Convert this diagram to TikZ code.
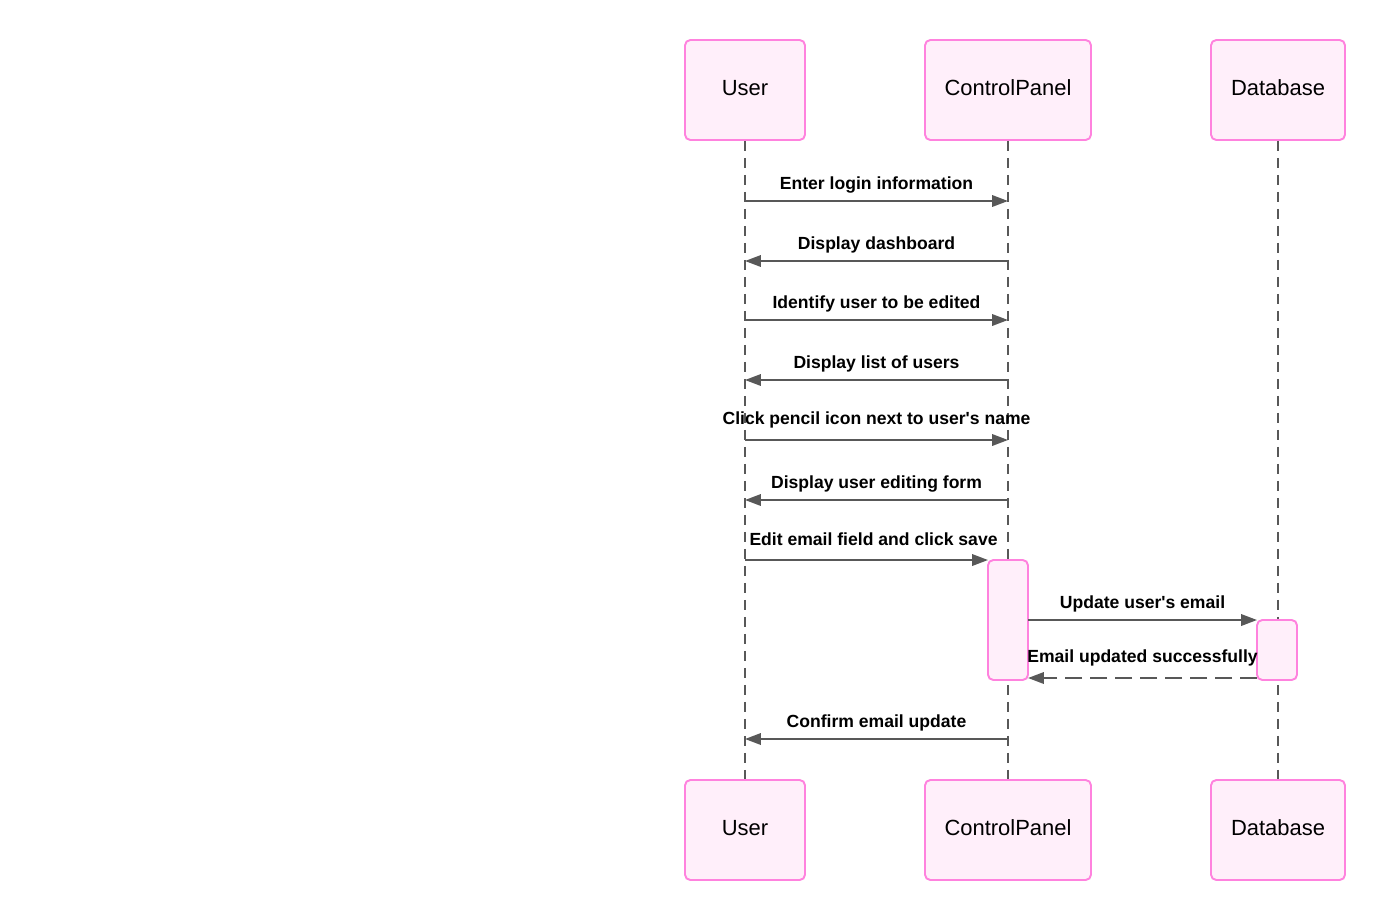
\documentclass[tikz,border=0pt]{standalone}
\usepackage{fontspec}
\setmainfont{Liberation Sans}
\usetikzlibrary{arrows.meta}
\definecolor{actline}{RGB}{255, 130, 222}
\definecolor{actfill}{RGB}{255, 239, 250}
\definecolor{msggray}{RGB}{88, 88, 88}
\begin{document}
\begin{tikzpicture}[x=0.02cm,y=-0.02cm,
    actor/.style={draw=actline,fill=actfill,line width=1.1pt,rounded corners=3pt,
      minimum height=2cm,inner sep=0pt,text height=9pt,text depth=2.3pt,
      font=\fontsize{12.5}{15}\selectfont},
    activ/.style={draw=actline,fill=actfill,line width=1.1pt,rounded corners=3pt,
      minimum width=0.8cm,inner sep=0pt,outer sep=0pt},
    life/.style={msggray,line width=1.1pt,dash pattern=on 0.2cm off 0.14cm},
    msg/.style={msggray,line width=1.1pt,-{Triangle[length=9pt,width=6.5pt]}},
    reply/.style={msg,dash pattern=on 0.34cm off 0.16cm},
    lbl/.style={midway,anchor=base,yshift=6.7pt,inner sep=0pt,text=black,
      font=\bfseries\fontsize{10}{12}\selectfont}]
      \useasboundingbox (0,0) rectangle (1385,920);
      %\draw[help lines,step=50] (0,0) grid (1385,920);
      \node[actor,minimum width=2.4cm] (userT) at (745,90) {User};
      \node[actor,minimum width=3.32cm] (cpT) at (1008,90) {ControlPanel};
      \node[actor,minimum width=2.68cm] (dbT) at (1278,90) {Database};
      \node[actor,minimum width=2.4cm] (userB) at (745,830) {User};
      \node[actor,minimum width=3.32cm] (cpB) at (1008,830) {ControlPanel};
      \node[actor,minimum width=2.68cm] (dbB) at (1278,830) {Database};
      \draw[life] (userT) -- (userB);
      \draw[life] (cpT) -- (cpB);
      \draw[life] (dbT) -- (dbB);
      \node[activ,minimum height=2.4cm] (cpA) at (1008,620) {};
      \node[activ,minimum height=1.2cm] (dbA) at (1277,650) {};
      \foreach \n/\y in {1/201,2/261,3/320,4/380,5/440,6/500,7/560,8/620,9/678,10/739} {
        \coordinate (u\n) at (745,\y);
        \coordinate (c\n) at (1008,\y);
        \coordinate (d\n) at (1277,\y);
      }
      \draw[msg] (u1) -- node[lbl] {Enter login information} (c1);
      \draw[msg] (c2) -- node[lbl] {Display dashboard} (u2);
      \draw[msg] (u3) -- node[lbl] {Identify user to be edited} (c3);
      \draw[msg] (c4) -- node[lbl] {Display list of users} (u4);
      \draw[msg] (u5) -- node[lbl,yshift=2.2pt] {Click pencil icon next to user\textquotesingle s name} (c5);
      \draw[msg] (c6) -- node[lbl] {Display user editing form} (u6);
      \draw[msg] (u7) -- node[lbl,xshift=4pt,yshift=1.7pt] {Edit email field and click save} (cpA.north west);
      \draw[msg] (c8 -| cpA.east) -- node[lbl] {Update user\textquotesingle s email} (dbA.north west);
      \draw[reply] (d9 -| dbA.west) -- node[lbl,yshift=2.2pt] {Email updated successfully} (c9 -| cpA.east);
      \draw[msg] (c10) -- node[lbl] {Confirm email update} (u10);
\end{tikzpicture}
\end{document}
